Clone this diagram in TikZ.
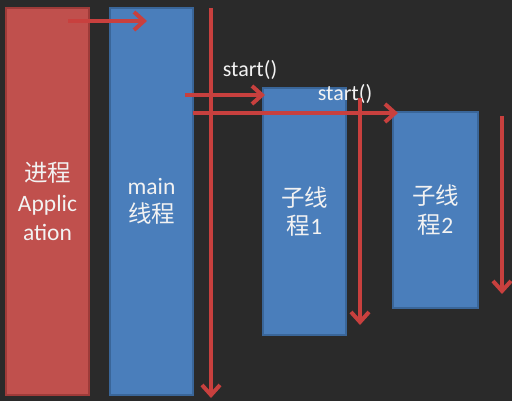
\documentclass[tikz,border=0pt]{standalone}
\usepackage{fontspec}
\setmainfont{Carlito}
\newfontfamily\cjk{Noto Sans CJK SC}
\usetikzlibrary{arrows.meta}
\definecolor{board}{HTML}{2A2A2A}
\definecolor{redfill}{HTML}{C0504D}
\definecolor{redline}{HTML}{9E3B39}
\definecolor{bluefill}{HTML}{4A7EBB}
\definecolor{blueline}{HTML}{3A6699}
\definecolor{arrowred}{HTML}{C8403E}
\definecolor{txt}{HTML}{F2F2F2}
\tikzset{
  appbox/.style={draw=redline, fill=redfill, line width=1.2pt, minimum width=83pt, text=txt, align=center, font=\fontsize{23.5}{29.5}\selectfont},
  thrbox/.style={draw=blueline, fill=bluefill, line width=1.2pt, minimum width=83pt, text=txt, align=center, font=\fontsize{23.5}{28.5}\selectfont},
  arr/.style={draw=arrowred, line width=4pt, -{Straight Barb[length=10pt, width=18pt, line width=4pt]}},
  lbl/.style={text=txt, font=\fontsize{22}{24}\selectfont, inner sep=0pt}
}
\begin{document}
\begin{tikzpicture}[x=1pt, y=-1pt]
\fill[board] (0,0) rectangle (512,401);
\useasboundingbox (0,0) rectangle (512,401);
% boxes
\node[appbox, minimum height=387pt] (app) at (47.5,201.5) {{\cjk 进程}\\Applic\\ation};
\node[thrbox, minimum height=387pt] (main) at (151.5,201.5) {main\\{\cjk 线程}};
\node[thrbox, minimum height=247pt] (t1) at (304.5,211.5) {{\cjk 子线}\\{\cjk 程}1};
\node[thrbox, minimum height=196pt, minimum width=85pt] (t2) at (435.5,210) {{\cjk 子线}\\{\cjk 程}2};
% labels
\node[lbl] (l1) at (250,70) {start()};
\node[lbl] (l2) at (345,94) {start()};
% coordinates
\coordinate (a0) at (68,21);
\coordinate (a1) at (147,21);
\coordinate (m0) at (211,8);
\coordinate (m1) at (211,398);
\coordinate (s1a) at (185,95);
\coordinate (s1b) at (265,95);
\coordinate (s2a) at (193,113);
\coordinate (s2b) at (398,113);
\coordinate (c1a) at (360,98);
\coordinate (c1b) at (360,325);
\coordinate (c2a) at (502,116);
\coordinate (c2b) at (502,294);
% arrows
\draw[arr] (a0) -- (a1);
\draw[arr] (m0) -- (m1);
\draw[arr] (s1a) -- (s1b);
\draw[arr] (s2a) -- (s2b);
\draw[arr] (c1a) -- (c1b);
\draw[arr] (c2a) -- (c2b);
\end{tikzpicture}
\end{document}
